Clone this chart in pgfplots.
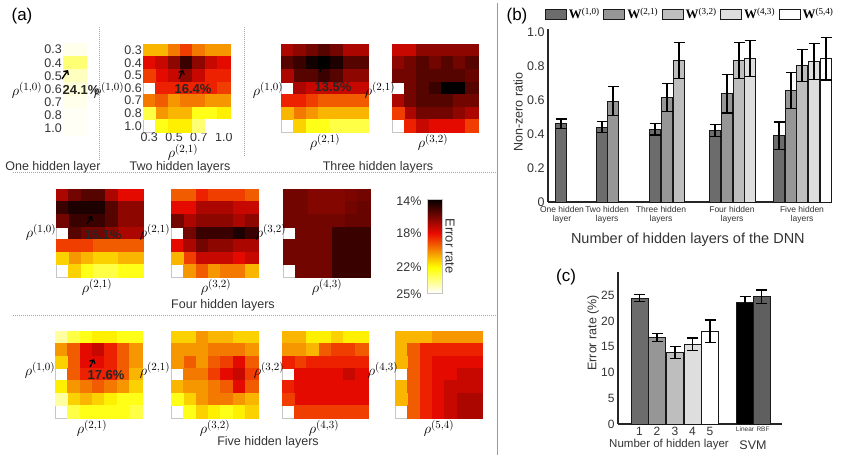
\documentclass[border=0pt]{standalone}
\usepackage{fontspec}
\setmainfont{Liberation Sans}
\newfontfamily\serif{Liberation Serif}
\usepackage{pgfplots}
\pgfplotsset{compat=1.18}
\usetikzlibrary{arrows.meta}
\newcommand{\fs}[1]{\fontsize{#1}{#1}\selectfont}
\definecolor{gA}{RGB}{108,108,108}
\definecolor{gB}{RGB}{150,150,150}
\definecolor{gC}{RGB}{190,190,190}
\definecolor{gD}{RGB}{222,222,222}
\definecolor{gE}{RGB}{95,95,95}
% colour scale 25% (bottom) .. 14% (top), same stops as the colormap
\pgfdeclareverticalshading{hotbar}{100bp}{rgb(0bp)=(1,1,1); rgb(25bp)=(1,1,1); rgb(38.64bp)=(1,1,0); rgb(56.8bp)=(0.92,0.04,0); rgb(75bp)=(0,0,0); rgb(100bp)=(0,0,0)}

\pgfplotsset{
  colormap={hotr}{rgb255(0pt)=(0,0,0) rgb255(3pt)=(235,10,0) rgb255(6pt)=(255,255,0) rgb255(8pt)=(255,255,255)},
  hm/.style={scale only axis, anchor=north west, enlargelimits=false,
    xmin=-0.5, xmax=6.5, ymin=-0.5, ymax=6.5, y dir=reverse,
    xtick=\empty, ytick=\empty, major tick length=0pt,
    axis line style={gray!45, line width=0.5pt}, axis on top,
    colormap name=hotr, point meta min=14, point meta max=25,
    ticklabel style={font=\fs{12.5}, text=black!80, inner sep=1pt}},
  cells/.style={scatter, only marks, mark=square*, mark size=6.3pt, point meta=explicit,
    scatter/use mapped color={draw=mapped color, fill=mapped color}},
  table/hmt/.style={x expr={mod(\coordindex,7)}, y expr={floor(\coordindex/7)}, meta index=0, row sep=\\},
}
\tikzset{rho/.style={font=\fs{15}}, lbl/.style={font=\fs{12.5}, text=black!80},
  pct/.style={font=\bfseries\fs{13}, text=black!85},
  arr/.style={line width=1.3pt, -{Straight Barb[length=3pt]}}}

\begin{document}
\begin{tikzpicture}
\path[use as bounding box] (0,0) rectangle (848pt,-457pt);

% ---------- (a) heatmaps ----------
\begin{axis}[hm, at={(63pt,-43pt)}, width=23pt, height=92pt, xmin=-0.5, xmax=0.5,
  ytick={0,...,6}, yticklabels={0.3,0.4,0.5,0.6,0.7,0.8,1.0}]
\addplot[scatter, only marks, mark=square*, mark size=6.6pt, point meta=explicit,
  scatter/use mapped color={draw=mapped color, fill=mapped color}, mark options={xscale=1.75}]
  table[x expr=0, y expr=\coordindex, meta index=0, row sep=\\]
  {v\\24.8\\23.5\\24.3\\24.6\\24.8\\24.9\\24.9\\};
\end{axis}

\begin{axis}[hm, at={(143pt,-44pt)}, width=87pt, height=88pt,
  ytick={0,...,6}, yticklabels={0.3,0.4,0.5,0.6,0.7,0.8,1.0},
  xtick={0,2,4,6}, xticklabels={0.3,0.5,0.7,1.0}]
\addplot[cells] table[hmt] {v\\
21\\21\\20\\19\\20\\20.5\\20.5\\
18\\17.5\\16.5\\15\\16.5\\17.5\\18\\
18.5\\18\\17.5\\16.5\\17.5\\18.5\\18.5\\
19\\18.5\\18.5\\18.5\\18.5\\18.5\\19\\
20\\19.5\\20.5\\20\\20\\20.5\\20.5\\
21\\20.5\\21\\21\\22.5\\22.5\\22\\
23\\22.5\\22\\22\\23.5\\25\\25\\};
\end{axis}

\begin{axis}[hm, at={(281pt,-44pt)}, width=87pt, height=88pt]
\addplot[cells] table[hmt] {v\\
17\\16.5\\16\\15.5\\16\\17\\17\\
15.5\\15\\14.3\\14\\14.5\\15.5\\15.5\\
16\\15.5\\15.5\\15\\15.5\\16.5\\16.5\\
17\\17\\17.5\\17.5\\17.5\\17.5\\17.5\\
18.5\\18.5\\19\\19.5\\19.5\\19.5\\19.5\\
19.5\\20\\20.5\\21\\21\\21\\21\\
21\\21.5\\22.5\\22.5\\23\\23\\23\\};
\end{axis}

\begin{axis}[hm, at={(392pt,-44pt)}, width=86pt, height=88pt]
\addplot[cells] table[hmt] {v\\
17.5\\17.5\\16.5\\16.5\\16.5\\16.5\\16.5\\
16.5\\16\\15.5\\16\\15.5\\16\\15.5\\
16.5\\16\\15.5\\15.5\\15.5\\15.5\\15.8\\
16\\16\\15.5\\15\\14\\14\\15.5\\
17\\16\\15.5\\15.5\\15.5\\16\\16\\
17.5\\17\\16\\16\\16\\16.5\\17\\
19\\18.5\\17.5\\18\\18\\18\\19\\};
\end{axis}

\begin{axis}[hm, at={(56pt,-189pt)}, width=87pt, height=88pt]
\addplot[cells] table[hmt] {v\\
17\\16\\15.5\\15.5\\17\\18\\18\\
15\\14.5\\14.5\\14.5\\15.5\\16.5\\16.5\\
15.5\\15\\15\\15\\15.5\\16.5\\16.5\\
16\\15.5\\16\\16\\16.5\\17\\17\\
19\\19\\19\\19.5\\19.5\\19.5\\19.5\\
20.5\\20.5\\21\\21.5\\21.5\\21\\21\\
21.5\\21.5\\22.5\\23\\23\\22.5\\22.5\\};
\end{axis}

\begin{axis}[hm, at={(171pt,-189pt)}, width=87pt, height=88pt]
\addplot[cells] table[hmt] {v\\
19.5\\19.5\\18.5\\19\\19\\19\\19.5\\
18\\18\\17\\17\\17\\17.5\\17.5\\
17\\17\\16.5\\16.5\\16.5\\17\\16.5\\
16\\16\\15\\15\\15\\14.5\\15\\
18\\17\\16\\16.5\\16.5\\17\\17\\
20\\19\\17.5\\17.5\\17.5\\18\\17.5\\
21\\20.5\\19.5\\20.5\\20\\20\\21\\};
\end{axis}

\begin{axis}[hm, at={(283pt,-189pt)}, width=87pt, height=88pt]
\addplot[cells] table[hmt] {v\\
16\\16\\16.3\\16.3\\16.3\\16.2\\16\\
16\\16\\16.3\\16.3\\16.3\\16\\15.8\\
16\\16\\16\\16\\16\\15.8\\15.8\\
16\\16\\16\\16\\15\\15\\15\\
16\\16\\16\\16\\15\\15\\15\\
16\\16\\16\\16\\15\\15\\15\\
16\\16\\16\\16\\15\\15\\15\\};
\end{axis}

\begin{axis}[hm, at={(55pt,-331pt)}, width=87pt, height=87pt]
\addplot[cells] table[hmt] {v\\
24\\23\\22.5\\22\\22\\22.5\\22.5\\
20.5\\19.5\\18\\17.5\\18.5\\19.5\\20.5\\
21\\19.5\\18\\18\\18.5\\19.5\\20.5\\
21.5\\19.5\\18.5\\18.5\\18.5\\19.5\\21\\
22\\20.5\\20\\19.5\\20\\20.5\\21.5\\
22.5\\21.5\\21\\21.5\\22\\22.5\\22.5\\
24\\23\\22.5\\22.5\\22.5\\22.5\\23\\};
\end{axis}

\begin{axis}[hm, at={(171pt,-331pt)}, width=87pt, height=87pt]
\addplot[cells] table[hmt] {v\\
21.5\\21.5\\20.5\\21\\21\\21.5\\21.5\\
20.5\\20.5\\20.5\\20\\20\\20\\20.5\\
20\\19.5\\20.5\\19.5\\19\\18\\19.5\\
20.5\\20\\20\\19\\18\\17.5\\19\\
21\\20.5\\20.5\\20\\19.5\\18\\19.5\\
22.5\\21.5\\20.5\\20\\20\\20.5\\21\\
22.5\\22.5\\21.5\\22\\22.5\\22\\21.5\\};
\end{axis}

\begin{axis}[hm, at={(282pt,-331pt)}, width=86pt, height=87pt]
\addplot[cells] table[hmt] {v\\
21\\21\\22\\22\\21.5\\22\\22\\
20.5\\20.5\\21\\19.5\\19\\19\\19.5\\
19\\19\\18.5\\18.5\\18.5\\18.5\\18.5\\
18.5\\18\\18\\18\\18\\17.5\\18\\
18.5\\18\\18\\18\\18\\18\\18\\
18.5\\18\\18\\18\\18\\18\\18\\
19\\19\\19\\19\\19\\19\\19\\};
\end{axis}

\begin{axis}[hm, at={(395pt,-331pt)}, width=87pt, height=87pt]
\addplot[cells] table[hmt] {v\\
21\\21\\21\\20.5\\20.5\\20.5\\20.5\\
21\\19.5\\18.5\\18.5\\18.5\\18.5\\18.5\\
21\\19.5\\18.5\\18\\18\\18\\18\\
21\\19.5\\18.5\\18\\18\\17.5\\17.5\\
21\\19.5\\18.5\\18\\17.5\\17.5\\17.5\\
21\\19.5\\18.5\\18\\17.5\\17\\17\\
21\\19.5\\18.5\\18\\17.5\\17\\17\\};
\end{axis}

% colour bar
\shade[shading=hotbar] (427pt,-293pt) rectangle (442pt,-199pt);
\draw[gray!45, line width=0.5pt] (427pt,-293pt) rectangle (442pt,-199pt);
\node[lbl, anchor=east] at (425pt,-201pt) {14\%};
\node[lbl, anchor=east] at (425pt,-233pt) {18\%};
\node[lbl, anchor=east] at (425pt,-267pt) {22\%};
\node[lbl, anchor=east] at (425pt,-294pt) {25\%};
\node[font=\fs{13}, rotate=-90, text=black!80] at (450pt,-246pt) {Error rate};

% labels of (a)
\node[font=\fs{17}] at (22pt,-16pt) {(a)};
\node[rho] at (27pt,-90pt) {$\rho^{(1,0)}$};
\node[rho] at (109pt,-90pt) {$\rho^{(1,0)}$};
\node[rho] at (183pt,-152pt) {$\rho^{(2,1)}$};
\node[rho] at (268pt,-90pt) {$\rho^{(1,0)}$};
\node[rho] at (325pt,-142pt) {$\rho^{(2,1)}$};
\node[rho] at (380pt,-90pt) {$\rho^{(2,1)}$};
\node[rho] at (433pt,-142pt) {$\rho^{(3,2)}$};
\node[rho] at (41pt,-232pt) {$\rho^{(1,0)}$};
\node[rho] at (97pt,-287pt) {$\rho^{(2,1)}$};
\node[rho] at (155pt,-232pt) {$\rho^{(2,1)}$};
\node[rho] at (216pt,-287pt) {$\rho^{(3,2)}$};
\node[rho] at (271pt,-232pt) {$\rho^{(3,2)}$};
\node[rho] at (327pt,-287pt) {$\rho^{(4,3)}$};
\node[rho] at (40pt,-370pt) {$\rho^{(1,0)}$};
\node[rho] at (92pt,-428pt) {$\rho^{(2,1)}$};
\node[rho] at (155pt,-370pt) {$\rho^{(2,1)}$};
\node[rho] at (215pt,-428pt) {$\rho^{(3,2)}$};
\node[rho] at (269pt,-370pt) {$\rho^{(3,2)}$};
\node[rho] at (324pt,-428pt) {$\rho^{(4,3)}$};
\node[rho] at (383pt,-370pt) {$\rho^{(4,3)}$};
\node[rho] at (439pt,-428pt) {$\rho^{(5,4)}$};
\node[pct] at (81pt,-90pt) {24.1\%};
\node[pct] at (193pt,-89pt) {16.4\%};
\node[pct] at (333pt,-87pt) {13.5\%};
\node[pct] at (103pt,-235pt) {15.1\%};
\node[pct] at (106pt,-375pt) {17.6\%};
\draw[arr] (62pt,-79pt) -- (68pt,-70pt);
\draw[arr] (179pt,-79pt) -- (183pt,-70pt);
\draw[arr] (320pt,-72pt) -- (323pt,-62pt);
\draw[arr] (87pt,-224pt) -- (92pt,-216pt);
\draw[arr] (90pt,-367pt) -- (94pt,-359pt);
\node[lbl] at (53pt,-167pt) {One hidden layer};
\node[lbl] at (180pt,-167pt) {Two hidden layers};
\node[lbl] at (378pt,-167pt) {Three hidden layers};
\node[lbl] at (223pt,-305pt) {Four hidden layers};
\node[lbl] at (268pt,-442pt) {Five hidden layers};
\draw[gray!70, line width=1pt, densely dotted] (13pt,-173pt) -- (497pt,-173pt);
\draw[gray!70, line width=1pt, densely dotted] (13pt,-315pt) -- (497pt,-315pt);
\draw[gray!70, line width=1pt, densely dotted] (99pt,-27pt) -- (99pt,-160pt);
\draw[gray!70, line width=1pt, densely dotted] (244pt,-27pt) -- (244pt,-157pt);
\draw[gray!80, line width=1pt] (497pt,-3pt) -- (497pt,-455pt);

% ---------- (b) non-zero ratio ----------
\begin{axis}[at={(548pt,-202pt)}, anchor=south west, scale only axis,
  width=282pt, height=173.4pt, xmin=548, xmax=830, ymin=0, ymax=1.02, clip=false,
  axis x line=bottom, axis y line=left, axis line style={-, line width=1.2pt, black!85},
  major tick length=0pt,
  ytick={0,0.2,0.4,0.6,0.8,1.0}, yticklabels={0,0.2,0.4,0.6,0.8,1.0},
  yticklabel style={font=\fs{12.5}, text=black!80},
  xtick={562,607,661,732,802},
  xticklabels={{One hidden\\layer},{Two hidden\\layers},{Three hidden\\layers},{Four hidden\\layers},{Five hidden\\layers}},
  xticklabel style={align=center, font=\fs{8.5}, text=black!80, yshift=-1pt},
  xlabel={Number of hidden layers of the DNN},
  xlabel style={at={(axis description cs:0.496,-0.219)}, anchor=center, font=\fs{14.5}, text=black!80},
  ylabel={Non-zero ratio},
  ylabel style={at={(axis description cs:-0.106,0.519)}, anchor=center, font=\fs{12.5}, text=black!80},
  legend columns=5,
  legend style={at={(axis description cs:-0.012,1.084)}, anchor=west, draw=none, fill=none,
    font=\serif\fs{13}, inner sep=0pt, /tikz/every even column/.append style={column sep=1.5pt}},
  legend image code/.code={\draw[#1, line width=1pt] (0pt,-5pt) rectangle (21pt,5pt);},
  every axis plot/.append style={point meta=none, ybar, bar width=11.6, bar shift=0pt, draw=black!90, line width=1pt,
    error bars/y dir=both, error bars/y explicit,
    error bars/error bar style={line width=1.2pt, black},
    error bars/error mark options={rotate=90, mark size=5.5pt, line width=1.2pt, black}},
]
\addplot[fill=gA] coordinates {(561,0.461) +- (0,0.027) (602,0.441) +- (0,0.032)
  (655,0.429) +- (0,0.035) (715,0.420) +- (0,0.037) (779,0.390) +- (0,0.080)};
\addplot[fill=gB] coordinates {(613,0.594) +- (0,0.085) (667,0.616) +- (0,0.083)
  (727,0.637) +- (0,0.113) (791,0.657) +- (0,0.105)};
\addplot[fill=gC] coordinates {(679,0.833) +- (0,0.106) (739,0.833) +- (0,0.107)
  (802,0.804) +- (0,0.095)};
\addplot[fill=gD] coordinates {(750,0.843) +- (0,0.105) (814,0.825) +- (0,0.106)};
\addplot[fill=white] coordinates {(826,0.843) +- (0,0.125)};
\legend{\textbf{W}\textsuperscript{(1,0)},\textbf{W}\textsuperscript{(2,1)},\textbf{W}\textsuperscript{(3,2)},\textbf{W}\textsuperscript{(4,3)},\textbf{W}\textsuperscript{(5,4)}}
\end{axis}
\node[font=\fs{17}] at (517pt,-16pt) {(b)};

% ---------- (c) error rate ----------
\begin{axis}[at={(618pt,-424pt)}, anchor=south west, scale only axis,
  width=164pt, height=152pt, xmin=618, xmax=782, ymin=0, ymax=29.5, clip=false,
  axis x line=bottom, axis y line=left, axis line style={-, line width=1.2pt, black!85},
  major tick length=0pt,
  ytick={0,5,...,25}, /pgf/number format/assume math mode=true,
  yticklabel style={font=\fs{12}, text=black!80},
  xtick={639.5,657,675,692.5,710}, xticklabels={1,2,3,4,5},
  xticklabel style={font=\fs{12}, text=black!80},
  extra x ticks={745,763}, extra x tick labels={Linear,RBF},
  extra x tick style={xticklabel style={font=\fs{6.5}, text=black!80, yshift=1pt}},
  ylabel={Error rate (\%)},
  ylabel style={at={(axis description cs:-0.152,0.6)}, anchor=center, font=\fs{12.5}, text=black!80},
  every axis plot/.append style={point meta=none, ybar, bar width=17, bar shift=0pt, draw=black!90, line width=1pt,
    error bars/y dir=both, error bars/y explicit,
    error bars/error bar style={line width=1.2pt, black},
    error bars/error mark options={rotate=90, mark size=5.5pt, line width=1.2pt, black}},
]
\addplot[fill=gA] coordinates {(639.5,24.4) +- (0,0.7)};
\addplot[fill=gB] coordinates {(657,16.8) +- (0,0.8)};
\addplot[fill=gC] coordinates {(675,13.9) +- (0,1.2)};
\addplot[fill=gD] coordinates {(692.5,15.5) +- (0,1.2)};
\addplot[fill=white] coordinates {(710,18.0) +- (0,2.2)};
\addplot[fill=black] coordinates {(745,23.6) +- (0,1.15)};
\addplot[fill=gE] coordinates {(761.5,24.7) +- (0,1.3)};
\end{axis}
\node[font=\fs{17}] at (566pt,-277pt) {(c)};
\node[lbl, font=\fs{11.5}] at (669pt,-445pt) {Number of hidden layer};
\node[lbl, font=\fs{12.5}] at (753pt,-445pt) {SVM};
\end{tikzpicture}
\end{document}
